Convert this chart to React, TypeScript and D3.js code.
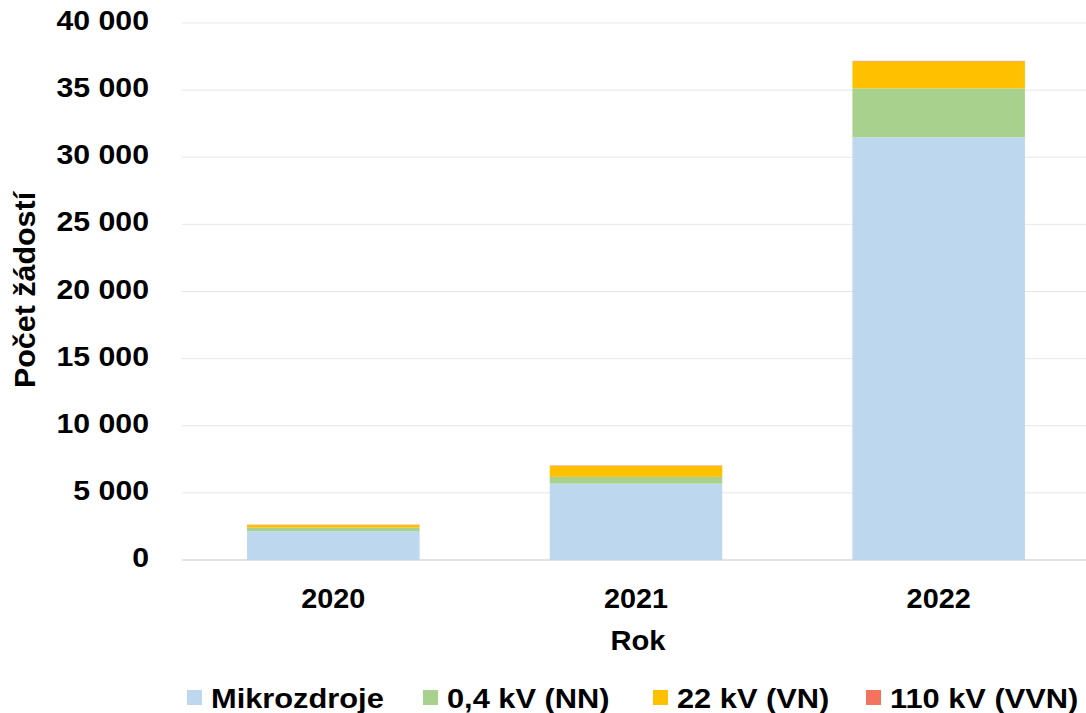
import React from "react";
import * as d3 from "d3";

const years = ["2020", "2021", "2022"];
const seriesNames = ["Mikrozdroje", "0,4 kV (NN)", "22 kV (VN)", "110 kV (VVN)"];
const mikrozdroje = [2140, 5690, 31490];
const nn = [270, 500, 3640];
const vn = [200, 820, 2010];
const vvn = [20, 30, 40];
const yTicks = [0, 5000, 10000, 15000, 20000, 25000, 30000, 35000, 40000];
const colors = ["#BDD7EE", "#A9D18E", "#FFC000", "#F4735E"];

const W = 1086, H = 713;
const left = 182, right = 1090, top = 23, bottom = 560;
const font = "'Liberation Sans', Arial, sans-serif";
const SX = 1.08;

function T({ x, y, anchor = "start", size = 28, sx = SX, rotate = 0, children }: any) {
  return (
    <text
      transform={`translate(${x},${y}) rotate(${rotate}) scale(${sx},1)`}
      textAnchor={anchor}
      fontSize={size}
      fill="#000"
    >
      {children}
    </text>
  );
}

export default function App() {
  const rows = years.map((y, i) => ({ year: y, s0: mikrozdroje[i], s1: nn[i], s2: vn[i], s3: vvn[i] }));
  const stack = d3.stack<any>().keys(["s0", "s1", "s2", "s3"]);
  const layers = stack(rows);
  const x = d3.scaleBand().domain(years).range([left, right]).paddingInner(0.43).paddingOuter(0.215);
  const y = d3.scaleLinear().domain([0, 40000]).range([bottom, top]);
  const fmt = (v: number) => d3.format(",")(v).replace(/,/g, " ");
  const legendX = [187, 423, 653, 866];
  return (
    <svg width={W} height={H} style={{ position: "absolute", left: 0, top: 0 }} fontFamily={font} fontWeight="bold">
      <rect width={W} height={H} fill="#fff" />
      {yTicks.map((t) => (
        <g key={t}>
          <line x1={left} x2={W} y1={y(t)} y2={y(t)} stroke={t === 0 ? "#D9D9D9" : "#E6E6E6"} strokeWidth={t === 0 ? 1.5 : 1} />
          <T x={149} y={y(t) + 7} anchor="end">{fmt(t)}</T>
        </g>
      ))}
      {layers.map((layer, li) =>
        layer.map((d, i) => (
          <rect key={li + "-" + i} x={x(years[i])} width={x.bandwidth()} y={y(d[1])} height={Math.max(0, y(d[0]) - y(d[1]))} fill={colors[li]} />
        ))
      )}
      {years.map((yr) => (
        <T key={yr} x={(x(yr) as number) + x.bandwidth() / 2} y={608} anchor="middle" sx={1.03}>{yr}</T>
      ))}
      <T x={638} y={650} anchor="middle" sx={1.04}>Rok</T>
      <T x={35} y={290} anchor="middle" rotate={-90} size={29} sx={1.05}>Počet žádostí</T>
      {seriesNames.map((n, i) => (
        <g key={n}>
          <rect x={legendX[i]} y={690} width={15} height={15} fill={colors[i]} />
          <T x={legendX[i] + 24} y={708} sx={1.1}>{n}</T>
        </g>
      ))}
    </svg>
  );
}
